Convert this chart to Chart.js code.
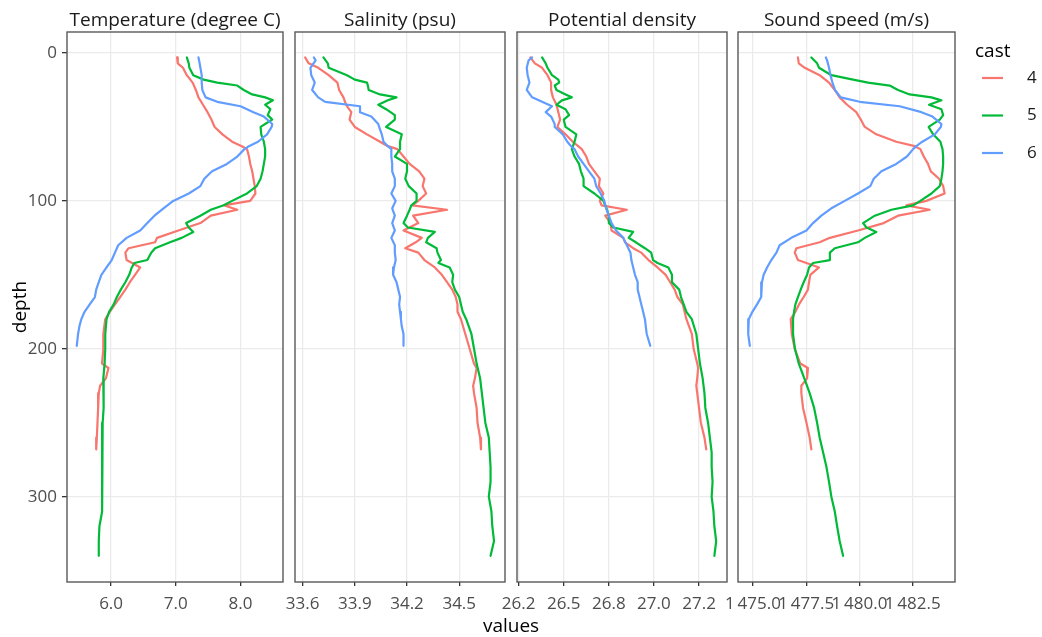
<!DOCTYPE html>
<html>
<head>
<meta charset="utf-8">
<script src="https://cdn.jsdelivr.net/npm/chart.js@4/dist/chart.umd.min.js"></script>
<style>
html,body{margin:0;padding:0;background:#fff;}
#wrap{position:relative;width:1042px;height:637px;overflow:hidden;}
#wrap canvas{position:absolute;left:0;top:0;}
</style>
</head>
<body>
<div id="wrap">
<canvas id="c0" width="1042" height="637"></canvas>
<canvas id="c1" width="1042" height="637"></canvas>
<canvas id="c2" width="1042" height="637"></canvas>
<canvas id="c3" width="1042" height="637"></canvas>
</div>
<script>
// ---------------- DATA ----------------
const castLabels = ['4', '5', '6'];
const panelTitles = ['Temperature (degree C)', 'Salinity (psu)', 'Potential density', 'Sound speed (m/s)'];
const depthTicks = [0, 100, 200, 300];

const tempTicks = [6, 7, 8];
const tempTickLabels = ['6.0', '7.0', '8.0'];
const salTicks = [33.6, 33.9, 34.2, 34.5];
const salTickLabels = ['33.6', '33.9', '34.2', '34.5'];
const densTicks = [26.25, 26.5, 26.75, 27.0, 27.25];
const densTickLabels = ['26.2', '26.5', '26.8', '27.0', '27.2'];
const soundTicks = [1475, 1477.5, 1480, 1482.5];
const soundTickLabels = ['1\u2009475.0', '1\u2009477.5', '1\u2009480.0', '1\u2009482.5'];

// cast 4
const depth4 = [3,7,10,15,20,25,30,35,40,45,50,55,60,63,65,70,75,80,85,90,95,100,103,106,110,115,120,125,128,132,135,140,145,150,155,160,165,170,175,180,190,200,210,213,220,225,230,240,250,260,268];
const temp4 = [7.02,7.03,7.11,7.17,7.26,7.31,7.35,7.42,7.49,7.55,7.60,7.72,7.87,8.02,8.10,8.13,8.15,8.18,8.20,8.22,8.23,8.15,7.74,7.95,7.54,7.38,7.04,6.71,6.68,6.27,6.22,6.24,6.45,6.37,6.29,6.22,6.14,6.06,5.98,5.91,5.88,5.88,5.86,5.96,5.92,5.83,5.81,5.80,5.79,5.78,5.77];
const sal4 = [33.615,33.635,33.69,33.75,33.80,33.81,33.835,33.85,33.88,33.87,33.90,33.97,34.045,34.09,34.145,34.18,34.215,34.27,34.30,34.29,34.31,34.265,34.23,34.43,34.235,34.265,34.18,34.285,34.25,34.19,34.265,34.30,34.36,34.40,34.43,34.46,34.48,34.49,34.49,34.51,34.535,34.56,34.585,34.60,34.59,34.58,34.585,34.60,34.605,34.62,34.625];
const dens4 = [26.315,26.34,26.38,26.41,26.43,26.43,26.44,26.46,26.47,26.48,26.465,26.51,26.55,26.58,26.60,26.625,26.64,26.67,26.70,26.695,26.72,26.70,26.71,26.85,26.73,26.76,26.765,26.83,26.84,26.885,26.93,26.97,27.02,27.065,27.09,27.115,27.13,27.16,27.17,27.18,27.21,27.22,27.24,27.245,27.24,27.235,27.24,27.25,27.26,27.28,27.29];
const sound4 = [1477.11,1477.15,1477.43,1478.13,1478.57,1478.84,1479.07,1479.42,1479.85,1480.06,1480.25,1480.79,1481.73,1482.60,1482.86,1483.02,1483.22,1483.35,1483.74,1483.93,1484.00,1483.14,1482.20,1483.30,1481.81,1481.14,1479.93,1478.61,1478.13,1477.04,1476.96,1477.11,1478.10,1477.69,1477.63,1477.58,1477.38,1477.16,1476.99,1476.77,1476.82,1476.96,1477.22,1477.58,1477.54,1477.27,1477.27,1477.35,1477.51,1477.66,1477.74];

// cast 5
const depth5 = [3,7,10,15,18,20,22,25,28,30,32,35,38,42,45,50,55,60,65,70,75,80,85,90,95,100,103,106,110,115,118,121,125,128,132,135,140,142,145,150,155,160,165,170,175,180,190,200,210,220,230,240,250,260,270,280,290,300,310,320,330,340];
const temp5 = [7.17,7.20,7.21,7.27,7.43,7.64,7.95,8.05,8.18,8.38,8.50,8.38,8.46,8.42,8.49,8.31,8.32,8.36,8.38,8.38,8.36,8.34,8.31,8.25,8.10,7.87,7.74,7.54,7.38,7.16,7.20,7.27,7.09,6.91,6.68,6.62,6.56,6.36,6.32,6.28,6.22,6.15,6.09,6.04,5.97,5.93,5.91,5.91,5.90,5.88,5.89,5.88,5.87,5.87,5.86,5.86,5.86,5.86,5.86,5.82,5.81,5.81];
const sal5 = [33.72,33.745,33.75,33.855,33.90,33.97,33.975,33.98,34.045,34.14,34.09,34.035,34.08,34.13,34.13,34.08,34.17,34.16,34.16,34.13,34.20,34.20,34.19,34.21,34.255,34.255,34.225,34.215,34.20,34.18,34.205,34.36,34.32,34.31,34.37,34.375,34.395,34.38,34.445,34.465,34.46,34.475,34.50,34.51,34.52,34.54,34.57,34.585,34.60,34.62,34.63,34.64,34.65,34.67,34.675,34.68,34.68,34.67,34.685,34.69,34.70,34.68];
const dens5 = [26.38,26.40,26.41,26.435,26.47,26.475,26.45,26.46,26.51,26.545,26.49,26.46,26.51,26.53,26.50,26.51,26.57,26.56,26.545,26.56,26.585,26.595,26.61,26.61,26.67,26.72,26.73,26.74,26.75,26.75,26.775,26.885,26.86,26.90,26.95,26.985,26.995,27.02,27.08,27.10,27.10,27.14,27.15,27.165,27.18,27.21,27.235,27.245,27.255,27.27,27.28,27.285,27.30,27.31,27.32,27.32,27.325,27.32,27.33,27.335,27.345,27.335];
const sound5 = [1477.74,1478.01,1478.10,1478.68,1479.70,1480.40,1481.42,1481.81,1482.36,1483.38,1483.85,1483.27,1483.85,1483.93,1483.77,1483.25,1483.46,1483.80,1483.90,1483.93,1483.93,1483.90,1483.85,1483.77,1483.38,1482.86,1482.52,1481.50,1480.72,1480.17,1480.33,1480.79,1480.25,1479.93,1478.84,1478.61,1478.61,1477.82,1477.63,1477.54,1477.38,1477.24,1477.11,1476.99,1476.93,1476.88,1476.88,1476.97,1477.15,1477.41,1477.66,1477.87,1478.01,1478.13,1478.29,1478.45,1478.57,1478.68,1478.84,1478.95,1479.07,1479.23];

// cast 6
const depth6 = [3,5,10,15,20,25,30,33,36,40,43,48,50,55,60,63,65,70,75,80,85,90,95,100,105,110,115,120,125,130,135,140,145,150,155,160,165,170,175,180,185,190,198];
const temp6 = [7.35,7.36,7.38,7.40,7.40,7.41,7.46,7.64,8.00,8.20,8.36,8.49,8.48,8.41,8.27,8.13,8.06,7.95,7.79,7.56,7.44,7.38,7.20,6.96,6.81,6.67,6.56,6.45,6.24,6.11,6.06,6.01,5.93,5.85,5.81,5.77,5.75,5.67,5.59,5.54,5.51,5.49,5.47];
const sal6 = [33.665,33.675,33.645,33.65,33.67,33.655,33.69,33.73,33.93,33.93,33.995,34.035,34.04,34.055,34.065,34.09,34.11,34.11,34.115,34.115,34.13,34.13,34.11,34.135,34.115,34.13,34.115,34.13,34.11,34.13,34.13,34.135,34.125,34.12,34.14,34.15,34.16,34.155,34.16,34.165,34.17,34.18,34.18];
const dens6 = [26.325,26.305,26.295,26.30,26.31,26.295,26.325,26.38,26.435,26.40,26.43,26.45,26.45,26.495,26.52,26.54,26.56,26.58,26.61,26.64,26.67,26.68,26.705,26.725,26.735,26.75,26.765,26.79,26.83,26.85,26.87,26.875,26.885,26.895,26.91,26.91,26.92,26.93,26.94,26.95,26.955,26.96,26.98];
const sound6 = [1478.42,1478.48,1478.57,1478.64,1478.73,1478.85,1479.12,1480.01,1481.89,1482.91,1483.43,1483.85,1483.82,1483.54,1482.95,1482.67,1482.52,1482.23,1481.73,1481.03,1480.67,1480.51,1479.93,1479.31,1478.68,1478.21,1477.82,1477.51,1476.80,1476.25,1476.10,1475.86,1475.66,1475.50,1475.42,1475.39,1475.38,1475.19,1474.97,1474.80,1474.77,1474.78,1474.85];

// ---------------- LAYOUT / STYLE ----------------
const W = 1042, H = 637;
const FONT = '"Open Sans", "DejaVu Sans", sans-serif';
const castColors = ['#F8766D', '#00BA38', '#619CFF'];
const depths = [depth4, depth5, depth6];
const panelDefs = [
  { title: panelTitles[0], vals: [temp4, temp5, temp6], ticks: tempTicks, labels: tempTickLabels, min: 5.319, max: 8.656, left: 67, right: 283 },
  { title: panelTitles[1], vals: [sal4, sal5, sal6], ticks: salTicks, labels: salTickLabels, min: 33.5565, max: 34.763, left: 295, right: 505 },
  { title: panelTitles[2], vals: [dens4, dens5, dens6], ticks: densTicks, labels: densTickLabels, min: 26.241, max: 27.405, left: 517, right: 727 },
  { title: panelTitles[3], vals: [sound4, sound5, sound6], ticks: soundTicks, labels: soundTickLabels, min: 1474.295, max: 1484.487, left: 738, right: 955 }
];
const TOP = 32, BOTTOM = 582;
const Y_MIN = -14.2, Y_MAX = 357.7;
const LINE_W = 2.2;

const panelDeco = {
  id: 'panelDeco',
  afterDraw(chart, args, opts) {
    const ctx = chart.ctx, a = chart.chartArea;
    ctx.save();
    ctx.strokeStyle = '#595959';
    ctx.lineWidth = 1.4;
    ctx.strokeRect(a.left, a.top, a.right - a.left, a.bottom - a.top);
    ctx.fillStyle = '#1a1a1a';
    ctx.font = '19px ' + FONT;
    ctx.textAlign = 'center';
    ctx.textBaseline = 'alphabetic';
    ctx.fillText(opts.title, (a.left + a.right) / 2, 26);
    ctx.restore();
  }
};

const figureText = {
  id: 'figureText',
  afterDraw(chart) {
    const ctx = chart.ctx;
    ctx.save();
    ctx.fillStyle = '#000';
    ctx.font = '19px ' + FONT;
    ctx.textAlign = 'center';
    ctx.textBaseline = 'alphabetic';
    ctx.fillText('values', 511, 632);
    ctx.save();
    ctx.translate(26, 307);
    ctx.rotate(-Math.PI / 2);
    ctx.fillText('depth', 0, 0);
    ctx.restore();
    // legend
    ctx.textAlign = 'left';
    ctx.fillText('cast', 975, 57);
    ctx.font = '17px ' + FONT;
    ctx.textBaseline = 'middle';
    for (let i = 0; i < castLabels.length; i++) {
      const y = 78 + i * 37.5;
      ctx.strokeStyle = castColors[i];
      ctx.lineWidth = LINE_W;
      ctx.beginPath();
      ctx.moveTo(982, y);
      ctx.lineTo(1003, y);
      ctx.stroke();
      ctx.fillStyle = '#1a1a1a';
      ctx.fillText(castLabels[i], 1027, y);
    }
    ctx.restore();
  }
};

panelDefs.forEach((p, idx) => {
  const first = idx === 0;
  const yW = first ? 57 : 0;
  const xH = 30;
  const datasets = p.vals.map((v, ci) => ({
    label: castLabels[ci],
    data: depths[ci].map((d, i) => ({ x: v[i], y: d })),
    borderColor: castColors[ci],
    backgroundColor: castColors[ci],
    showLine: true,
    pointRadius: 0,
    borderWidth: LINE_W,
    borderJoinStyle: 'round',
    borderCapStyle: 'round',
    tension: 0,
    order: 3 - ci
  }));
  new Chart(document.getElementById('c' + idx), {
    type: 'scatter',
    data: { datasets },
    options: {
      responsive: false,
      animation: false,
      events: [],
      devicePixelRatio: 1,
      layout: { padding: { left: p.left - yW, right: W - p.right, top: TOP, bottom: H - BOTTOM - xH } },
      plugins: {
        legend: { display: false },
        tooltip: { enabled: false },
        title: { display: false },
        panelDeco: { title: p.title }
      },
      scales: {
        x: {
          type: 'linear',
          min: p.min, max: p.max,
          afterBuildTicks: s => { s.ticks = p.ticks.map(v => ({ value: v })); },
          afterFit: s => { s.height = xH; },
          border: { display: false },
          grid: { color: '#ebebeb', lineWidth: 1.3, drawTicks: true, tickLength: 4, tickColor: '#333', tickWidth: 1.3 },
          ticks: {
            autoSkip: false, maxRotation: 0, minRotation: 0, padding: 8,
            color: '#4d4d4d', font: { family: FONT, size: 17 },
            callback: (val, i) => p.labels[i]
          }
        },
        y: {
          type: 'linear',
          reverse: true,
          min: Y_MIN, max: Y_MAX,
          afterBuildTicks: s => { s.ticks = depthTicks.map(v => ({ value: v })); },
          afterFit: s => { s.width = yW; },
          border: { display: false },
          grid: { color: '#ebebeb', lineWidth: 1.3, drawTicks: first, tickLength: 5, tickColor: '#333', tickWidth: 1.3 },
          ticks: {
            display: first, padding: 5,
            color: '#4d4d4d', font: { family: FONT, size: 17 },
            callback: (val) => String(val)
          }
        }
      }
    },
    plugins: idx === 3 ? [panelDeco, figureText] : [panelDeco]
  });
});
</script>
</body>
</html>
